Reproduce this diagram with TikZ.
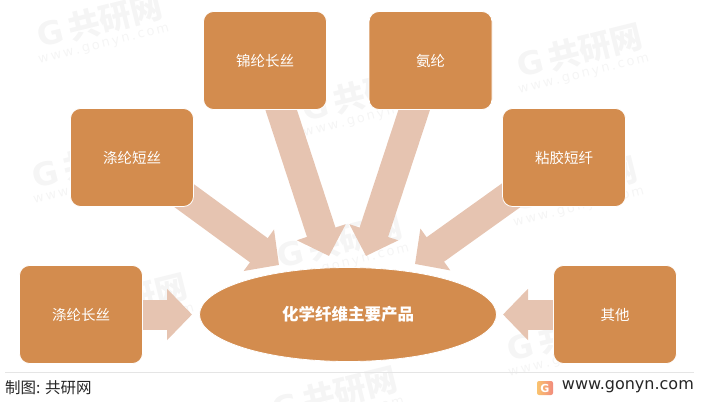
\documentclass[tikz,border=0pt]{standalone}
\usepackage{fontspec}
\setmainfont{Noto Sans CJK SC}
\newfontfamily\latinfont{DejaVu Sans}
\usetikzlibrary{shapes,arrows.meta,backgrounds}
\definecolor{boxfill}{HTML}{D38C4E}
\definecolor{flowfill}{HTML}{E6C4B1}
\definecolor{markgray}{HTML}{F5F5F5}
\definecolor{logoleft}{HTML}{F9C36F}
\definecolor{logoright}{HTML}{F28B7D}
\tikzset{
  product/.style={rectangle, rounded corners=10pt, draw=white, line width=0.8pt, fill=boxfill, text=white, minimum width=123pt, minimum height=98pt, inner sep=0pt, font=\fontsize{14.5}{16}\selectfont},
  flow/.style={draw=flowfill, line width=30pt, -{Triangle[length=25pt, width=50pt, fill=flowfill]}},
  wmtext/.style={rotate=14, text=markgray, inner sep=0pt}
}

\begin{document}
\begin{tikzpicture}[x=1pt, y=-1pt]
    \useasboundingbox (0,0) rectangle (703,401);

    % Central ellipse
    \node[ellipse, draw=white, line width=0.8pt, fill=boxfill, text=white, minimum width=297pt, minimum height=94pt, inner sep=0pt, font=\fontsize{16.5}{18}\selectfont\bfseries] (center) at (348,314.5) {化学纤维主要产品};

    % Six products around it
    \node[product] (changsi) at (81,314.5) {涤纶长丝};
    \node[product] (duansi) at (132,157.5) {涤纶短丝};
    \node[product] (jinlun) at (265,60.5) {锦纶长丝};
    \node[product] (anlun) at (430.5,60.5) {氨纶};
    \node[product] (nianjiao) at (564,157.5) {粘胶短纤};
    \node[product] (qita) at (615,314.5) {其他};

    % Arrow tips next to the ellipse
    \coordinate (tipa) at (192,314.5);
    \coordinate (tipb) at (279,265);
    \coordinate (tipc) at (329,256);
    \coordinate (tipd) at (366,256);
    \coordinate (tipe) at (415,264);
    \coordinate (tipf) at (503,314.5);

    \begin{scope}[on background layer]
        % Watermarks
        \foreach \i/\px/\py in {a/100/27, b/580/57, c/95/167, d/340/247, e/125/307, f/335/400, g/575/190, h/570/340, k/365/100} {
            \node[wmtext, font=\fontsize{32}{34}\selectfont\bfseries] (mark\i) at (\px,\py-6) {\latinfont G\,\rmfamily 共研网};
            \node[wmtext, font=\fontsize{13}{15}\selectfont\latinfont] (url\i) at (\px+4,\py+18) {w\,w\,w\,.\,g\,o\,n\,y\,n\,.\,c\,o\,m};
        }
        % Arrows
        \draw[flow] (changsi.center) -- (tipa);
        \draw[flow] (duansi.center) -- (tipb);
        \draw[flow] (jinlun.center) -- (tipc);
        \draw[flow] (anlun.center) -- (tipd);
        \draw[flow] (nianjiao.center) -- (tipe);
        \draw[flow] (qita.center) -- (tipf);
    \end{scope}

    % Footer
    \coordinate (ruleleft) at (5,372.5);
    \coordinate (ruleright) at (694,372.5);
    \draw[black!10] (ruleleft) -- (ruleright);
    \node[anchor=west, inner sep=0pt, text=black!85, font=\fontsize{15.5}{17}\selectfont] (source) at (5,388) {制图: 共研网};
    \node[rectangle, rounded corners=2pt, left color=logoleft, right color=logoright, text=white, minimum width=16pt, minimum height=14pt, inner sep=0pt, font=\fontsize{11}{11}\selectfont\latinfont\bfseries] (logo) at (545,388) {G};
    \node[anchor=east, inner sep=0pt, text=black!85, font=\fontsize{16}{18}\selectfont\latinfont] (site) at (694,387) {www.gonyn.com};
\end{tikzpicture}
\end{document}
